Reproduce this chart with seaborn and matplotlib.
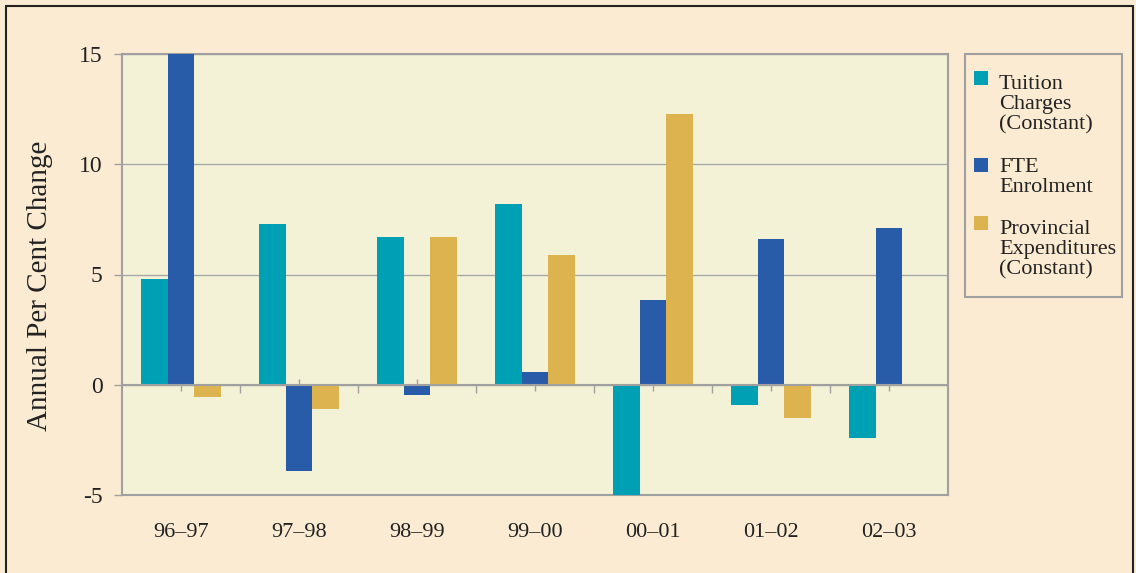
import matplotlib
matplotlib.use("Agg")
import matplotlib.pyplot as plt
import seaborn as sns
import pandas as pd
import numpy as np
from matplotlib.lines import Line2D
from matplotlib.patches import Patch, Rectangle
from matplotlib.legend_handler import HandlerPatch

years = ["96–97", "97–98", "98–99", "99–00", "00–01", "01–02", "02–03"]
tuition = [4.8, 7.3, 6.7, 8.2, -5.0, -0.9, -2.4]
fte = [15.0, -3.9, -0.45, 0.6, 3.85, 6.6, 7.1]
provincial = [-0.55, -1.1, 6.7, 5.9, 12.3, -1.5, 0.0]
series_names = ["Tuition\nCharges\n(Constant)", "FTE\nEnrolment", "Provincial\nExpenditures\n(Constant)"]
colors = ["#00A0B4", "#285CA8", "#DCB34E"]

df = pd.DataFrame({
    "year": years * 3,
    "value": tuition + fte + provincial,
    "series": [series_names[0]] * 7 + [series_names[1]] * 7 + [series_names[2]] * 7,
})

sns.set_theme(style="white")
plt.rcParams["font.family"] = ["Liberation Serif", "DejaVu Serif"]
plt.rcParams["axes.unicode_minus"] = False

W, H = 1136, 573
fig = plt.figure(figsize=(W / 100, H / 100), dpi=100)
fig.patch.set_facecolor("#FBEBD2")
ax = fig.add_axes([122 / W, 1 - 495 / H, 826 / W, 441 / H])
ax.set_facecolor("#F3F2D6")

sns.barplot(data=df, x="year", y="value", hue="series", palette=colors,
            width=0.68, ax=ax, legend=False, saturation=1, zorder=3,
            linewidth=0, edgecolor="none")

ax.set_ylim(-5, 15)
ax.set_xlim(-0.5, 6.5)
ax.set_yticks([-5, 0, 5, 10, 15])
ax.yaxis.grid(True, color="#A9A9A9", lw=1, zorder=1)
ax.xaxis.grid(False)
for s in ax.spines.values():
    s.set_color("#A0A0A0")
    s.set_linewidth(1.5)
ax.axhline(0, color="#A0A0A0", lw=1.5, zorder=4)

ax.tick_params(axis="y", left=True, length=6, width=1, color="#A0A0A0",
               labelsize=17, labelcolor="#222222", pad=8)
ax.tick_params(axis="x", bottom=False, labelsize=16, labelcolor="#222222", pad=14)
ax.set_xlabel("")
ax.set_ylabel("Annual Per Cent Change", fontsize=21, color="#222222")
ax.yaxis.set_label_coords(-0.0835, 0.474)

# ticks on the zero line
sec = ax.secondary_xaxis(0.25)
sec.set_xticks(range(len(years)))
sec.set_xticks(np.arange(len(years) - 1) + 0.5, minor=True)
sec.tick_params(which="major", direction="inout", length=8, width=1, color="#A0A0A0", labelbottom=False)
sec.tick_params(which="minor", direction="out", length=6, width=1, color="#A0A0A0", labelbottom=False)
sec.spines["bottom"].set_visible(False)

LEG_FS = 16
LEG_LS = 1.08


class HandlerTop(HandlerPatch):
    def __init__(self, nlines, **kw):
        super().__init__(**kw)
        self.nlines = nlines

    def create_artists(self, legend, orig_handle, xdescent, ydescent, width, height, fontsize, trans):
        dy = (self.nlines - 1) * fontsize * 1.2 * LEG_LS / 2 - 2
        return super().create_artists(legend, orig_handle, xdescent, ydescent - dy,
                                      width, height, fontsize, trans)


# legend box
fig.add_artist(Rectangle((965 / W, 1 - 297 / H), 157 / W, 243 / H, transform=fig.transFigure,
                         facecolor="#FBEBD2", edgecolor="#A0A0A0", lw=1.5, zorder=1))

handles = [Patch(facecolor=c, edgecolor="none") for c in colors]
hmap = {h: HandlerTop(n.count("\n") + 1) for h, n in zip(handles, series_names)}
leg = fig.legend(handles, series_names, loc="upper left", handler_map=hmap,
                 bbox_to_anchor=(974 / W, 1 - 75 / H), frameon=False,
                 fontsize=LEG_FS, labelspacing=1.05, handlelength=0.62, handleheight=0.62,
                 handletextpad=0.5, borderpad=0, borderaxespad=0)
leg.set_zorder(2)
for t in leg.get_texts():
    t.set_color("#222222")
    t.set_linespacing(LEG_LS)

# outer frame lines
fig.add_artist(Line2D([6 / W, 1133 / W], [1 - 6 / H, 1 - 6 / H], color="#222222", lw=1.5))
fig.add_artist(Line2D([6 / W, 6 / W], [0, 1 - 6 / H], color="#222222", lw=1.5))
fig.add_artist(Line2D([1133 / W, 1133 / W], [0, 1 - 6 / H], color="#222222", lw=1.5))

fig.savefig("out.png", dpi=100, facecolor=fig.get_facecolor())
